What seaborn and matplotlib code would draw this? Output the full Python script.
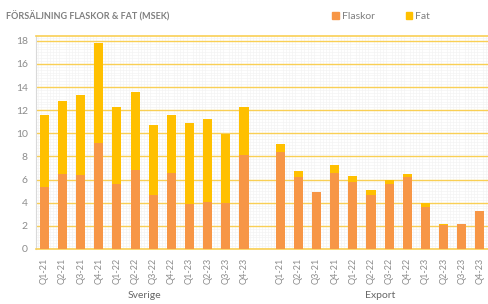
import numpy as np
import pandas as pd
import seaborn as sns
import matplotlib.pyplot as plt
from matplotlib.ticker import MultipleLocator
from matplotlib.patches import Patch

quarters = ['Q1-21', 'Q2-21', 'Q3-21', 'Q4-21', 'Q1-22', 'Q2-22',
            'Q3-22', 'Q4-22', 'Q1-23', 'Q2-23', 'Q3-23', 'Q4-23']
markets = ['Sverige', 'Export']

sverige_flaskor = [5.4, 6.5, 6.4, 9.2, 5.6, 6.8, 4.7, 6.6, 3.9, 4.1, 4.0, 8.1]
sverige_fat = [6.2, 6.3, 6.9, 8.6, 6.7, 6.8, 6.0, 5.0, 7.0, 7.1, 5.9, 4.2]
export_flaskor = [8.4, 6.2, 4.9, 6.6, 5.8, 4.7, 5.6, 6.2, 3.6, 2.1, 2.2, 3.3]
export_fat = [0.7, 0.5, 0.0, 0.7, 0.5, 0.4, 0.4, 0.3, 0.4, 0.1, 0.0, 0.0]

c_flaskor = '#F79646'
c_fat = '#FFC000'
c_grid = '#F9CF55'
c_text = '#8C8C8C'

# one empty slot between the two markets
n = len(quarters)
pos = list(range(n)) + list(range(n + 1, 2 * n + 1))
df = pd.DataFrame({
    'pos': pos,
    'market': [markets[0]] * n + [markets[1]] * n,
    'quarter': quarters * 2,
    'Flaskor': sverige_flaskor + export_flaskor,
    'Fat': sverige_fat + export_fat,
})
df['total'] = df['Flaskor'] + df['Fat']

sns.set_style('white')
plt.rcParams['font.family'] = ['Lato', 'DejaVu Sans']

fig = plt.figure(figsize=(4.89, 3.04), dpi=100)
ax = fig.add_axes([0.074, 0.181, 0.926, 0.70])

sns.barplot(data=df, x='pos', y='total', color=c_fat, native_scale=True,
            width=0.5, saturation=1, linewidth=0, ax=ax, zorder=3)
sns.barplot(data=df, x='pos', y='Flaskor', color=c_flaskor, native_scale=True,
            width=0.5, saturation=1, linewidth=0, ax=ax, zorder=4)

ax.set_xlim(-0.45, 2 * n + 0.5)
ax.set_ylim(0, 18.4)
ax.yaxis.set_major_locator(MultipleLocator(2))
ax.yaxis.set_minor_locator(MultipleLocator(0.25))
ax.xaxis.set_minor_locator(MultipleLocator(1 / 6))
ax.grid(which='minor', color='#F2F2F2', linewidth=0.4, zorder=0)
ax.grid(which='major', axis='y', color=c_grid, linewidth=1.0, zorder=1)
ax.set_axisbelow(True)

ax.set_xticks(df['pos'])
ax.set_xticklabels(df['quarter'], rotation=90, fontsize=6.5, color=c_text)
ax.tick_params(axis='y', labelsize=7.5, colors=c_text, length=0, pad=6)
ax.tick_params(axis='x', length=0, pad=6)
ax.set_xlabel('')
ax.set_ylabel('')

ax.spines['right'].set_visible(False)
ax.spines['left'].set_color('#D9D9D9')
ax.spines['bottom'].set_color(c_grid)
ax.spines['bottom'].set_linewidth(1.2)
ax.spines['top'].set_color(c_grid)
ax.spines['top'].set_linewidth(1.2)

for m in markets:
    centre = np.mean(df.loc[df['market'] == m, 'pos'])
    ax.text(centre, 4 / 304, m, transform=ax.get_xaxis_transform().__class__(
            ax.transData, fig.transFigure),
            ha='center', va='bottom', fontsize=7.5, color='#666666')

fig.text(0.012, 0.945, 'FÖRSÄLJNING FLASKOR & FAT (MSEK)', fontsize=6.5,
         fontweight='bold', color='#7F7F7F', va='center', ha='left')

handles = [Patch(color=c_flaskor, label='Flaskor'), Patch(color=c_fat, label='Fat')]
fig.legend(handles=handles, loc='center', bbox_to_anchor=(0.78, 0.945), ncol=2,
           frameon=False, fontsize=7.5, handlelength=0.6, handleheight=0.6,
           handletextpad=0.3, columnspacing=3.0, labelcolor='#7F7F7F')

fig.savefig('out.png', dpi=100)
